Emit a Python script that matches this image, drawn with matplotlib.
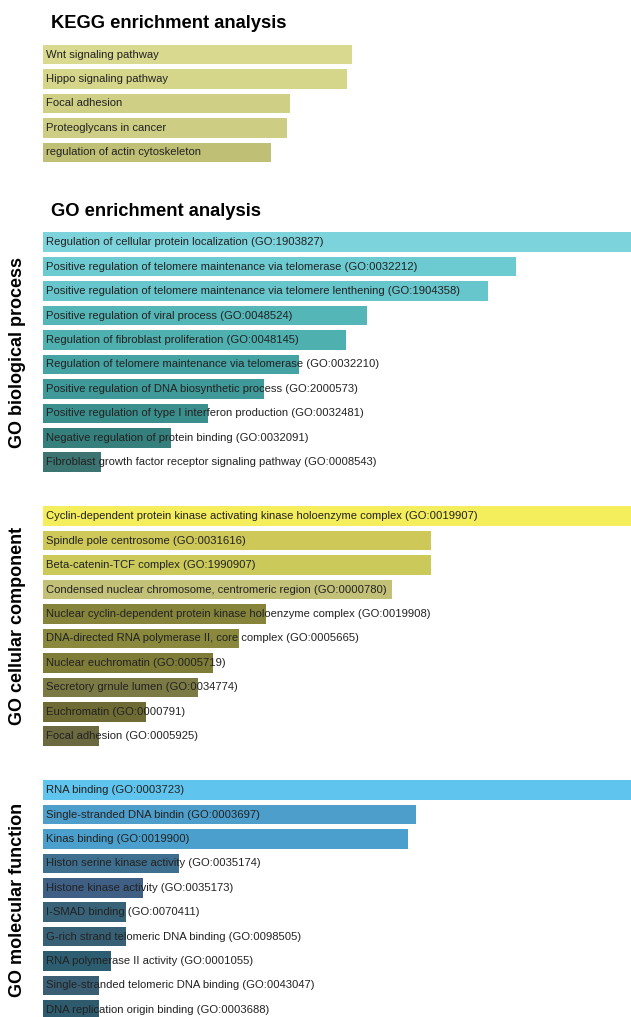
import matplotlib
matplotlib.use("Agg")
import matplotlib.pyplot as plt
import numpy as np

plt.rcParams['font.family'] = ['Liberation Sans', 'DejaVu Sans']

# bar lengths are relative enrichment scores
kegg_terms = ["Wnt signaling pathway", "Hippo signaling pathway", "Focal adhesion",
              "Proteoglycans in cancer", "regulation of actin cytoskeleton"]
kegg_vals = [309, 304, 247, 244, 228]
kegg_cols = ["#d9d98f", "#d6d68a", "#cfcf85", "#cdcd83", "#bfbf75"]

bp_terms = ["Regulation of cellular protein localization (GO:1903827)",
            "Positive regulation of telomere maintenance via telomerase (GO:0032212)",
            "Positive regulation of telomere maintenance via telomere lenthening (GO:1904358)",
            "Positive regulation of viral process (GO:0048524)",
            "Regulation of fibroblast proliferation (GO:0048145)",
            "Regulation of telomere maintenance via telomerase (GO:0032210)",
            "Positive regulation of DNA biosynthetic process (GO:2000573)",
            "Positive regulation of type I interferon production (GO:0032481)",
            "Negative regulation of protein binding (GO:0032091)",
            "Fibroblast growth factor receptor signaling pathway (GO:0008543)"]
bp_vals = [600, 473, 445, 324, 303, 256, 221, 165, 128, 58]
bp_cols = ["#7dd3dc", "#6ccbd1", "#67c6cc", "#55b6b7", "#4fb0b0",
           "#45a3a3", "#3e9998", "#3a8f8d", "#357f7c", "#3b7471"]

cc_terms = ["Cyclin-dependent protein kinase activating kinase holoenzyme complex (GO:0019907)",
            "Spindle pole centrosome (GO:0031616)",
            "Beta-catenin-TCF complex (GO:1990907)",
            "Condensed nuclear chromosome, centromeric region (GO:0000780)",
            "Nuclear cyclin-dependent protein kinase holoenzyme complex (GO:0019908)",
            "DNA-directed RNA polymerase II, core complex (GO:0005665)",
            "Nuclear euchromatin (GO:0005719)",
            "Secretory grnule lumen (GO:0034774)",
            "Euchromatin (GO:0000791)",
            "Focal adhesion (GO:0005925)"]
cc_vals = [600, 388, 388, 349, 223, 196, 170, 155, 103, 56]
cc_cols = ["#f5ee5c", "#cdc857", "#cbc95a", "#c3c077", "#86843a",
           "#8a883d", "#7f7c38", "#7b7a45", "#6e6b35", "#6b693f"]

mf_terms = ["RNA binding (GO:0003723)",
            "Single-stranded DNA bindin (GO:0003697)",
            "Kinas binding (GO:0019900)",
            "Histon serine kinase activity (GO:0035174)",
            "Histone kinase activity (GO:0035173)",
            "I-SMAD binding (GO:0070411)",
            "G-rich strand telomeric DNA binding (GO:0098505)",
            "RNA polymerase II activity (GO:0001055)",
            "Single-stranded telomeric DNA binding (GO:0043047)",
            "DNA replication origin binding (GO:0003688)"]
mf_vals = [600, 373, 365, 136, 100, 83, 83, 68, 56, 56]
mf_cols = ["#60c5ee", "#4d9ecb", "#4a9fcd", "#3f6f8e", "#3f5f85",
           "#386278", "#386075", "#2d5d70", "#3a5f74", "#2d5a6c"]

W, H = 631, 1017
X0 = 43
fig = plt.figure(figsize=(W / 100, H / 100), dpi=100)


def panel(top, bottom, terms, vals, cols):
    ax = fig.add_axes([X0 / W, 1 - bottom / H, (W - X0) / W, (bottom - top) / H])
    y = np.arange(len(terms))
    ax.barh(y, vals, height=0.8, color=cols)
    ax.set_ylim(len(terms) - 0.5, -0.5)
    ax.set_xlim(0, W - X0)
    for i, t in enumerate(terms):
        ax.text(3, i, t, va='center', ha='left', fontsize=8.1, color="#222222")
    ax.axis('off')
    return ax


panel(42.3, 164.7, kegg_terms, kegg_vals, kegg_cols)
panel(230, 474.5, bp_terms, bp_vals, bp_cols)
panel(504, 748.5, cc_terms, cc_vals, cc_cols)
panel(778, 1022, mf_terms, mf_vals, mf_cols)

fig.text(51 / W, 1 - 23 / H, "KEGG enrichment analysis", fontsize=13.2,
         fontweight='bold', va='center', ha='left')
fig.text(51 / W, 1 - 211 / H, "GO enrichment analysis", fontsize=13.2,
         fontweight='bold', va='center', ha='left')

for yc, lab in [(352, "GO biological process"), (626, "GO cellular component"),
                (900, "GO molecular function")]:
    fig.text(18 / W, 1 - yc / H, lab, rotation=90, fontsize=13, fontweight='bold',
             va='center', ha='center')

fig.savefig("out.png", dpi=100)
